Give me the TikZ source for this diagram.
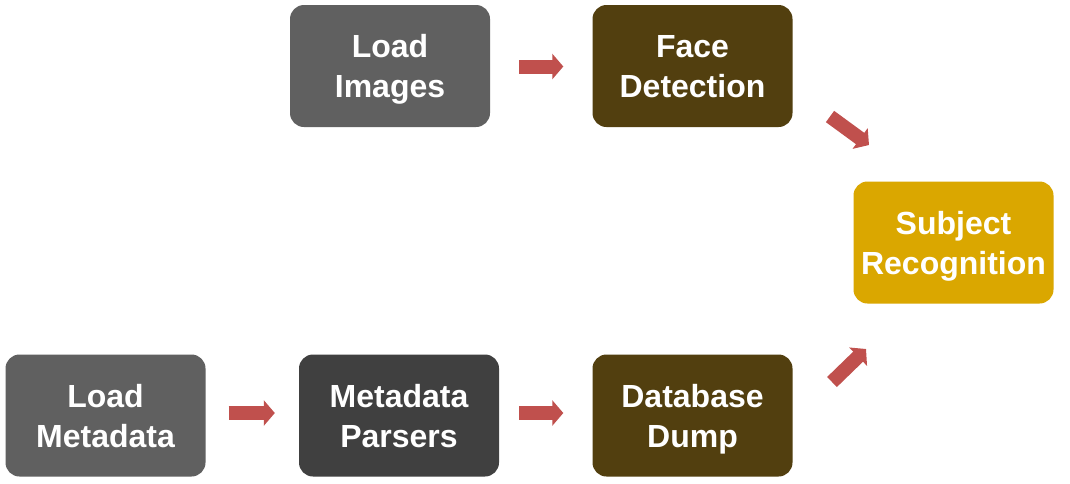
\documentclass[tikz,border=0pt]{standalone}
\usepackage{fontspec}
\setmainfont{Liberation Sans}
\usetikzlibrary{arrows.meta}
\definecolor{grayA}{HTML}{606060}
\definecolor{grayB}{HTML}{404040}
\definecolor{brownA}{HTML}{523F0F}
\definecolor{goldA}{HTML}{DAA700}
\definecolor{redA}{HTML}{C0504D}
\tikzset{
  box/.style={rounded corners=14pt, minimum width=200pt, minimum height=122pt, inner sep=0pt},
  boxtext/.style={text=white, font=\bfseries\fontsize{32}{40}\selectfont, align=center, inner sep=0pt, yshift=-3.5pt},
  blockarrow/.style={draw=redA, line width=14pt, -{Triangle[length=11pt,width=25pt]}},
}
\begin{document}
\begin{tikzpicture}[x=1pt,y=-1pt]
\useasboundingbox[fill=white] (0,0) rectangle (1070,483);
\node[box, fill=grayA, label={[boxtext]center:Load\strut\\Images\strut}] (li) at (390,66) {};
\node[box, fill=brownA, label={[boxtext]center:Face\strut\\Detection\strut}] (fd) at (692.5,66) {};
\node[box, fill=goldA, label={[boxtext]center:Subject\strut\\Recognition\strut}] (sr) at (953.5,242.5) {};
\node[box, fill=grayA, label={[boxtext]center:Load\strut\\Metadata\strut}] (lm) at (105.5,415.5) {};
\node[box, fill=grayB, label={[boxtext]center:Metadata\strut\\Parsers\strut}] (mp) at (399,415.5) {};
\node[box, fill=brownA, label={[boxtext]center:Database\strut\\Dump\strut}] (dd) at (692.5,415.5) {};
\coordinate (d1s) at (830,116.5);
\coordinate (d1e) at (869,145);
\coordinate (d2s) at (832,382);
\coordinate (d2e) at (866,349);
\draw[blockarrow, shorten <=29pt, shorten >=29pt] ([yshift=-0.5pt]li.east) -- ([yshift=-0.5pt]fd.west);
\draw[blockarrow, shorten <=23pt, shorten >=24pt] ([yshift=2.5pt]lm.east) -- ([yshift=2.5pt]mp.west);
\draw[blockarrow, shorten <=20pt, shorten >=29pt] ([yshift=2.5pt]mp.east) -- ([yshift=2.5pt]dd.west);
\draw[blockarrow] (d1s) -- (d1e);
\draw[blockarrow] (d2s) -- (d2e);
\end{tikzpicture}
\end{document}
